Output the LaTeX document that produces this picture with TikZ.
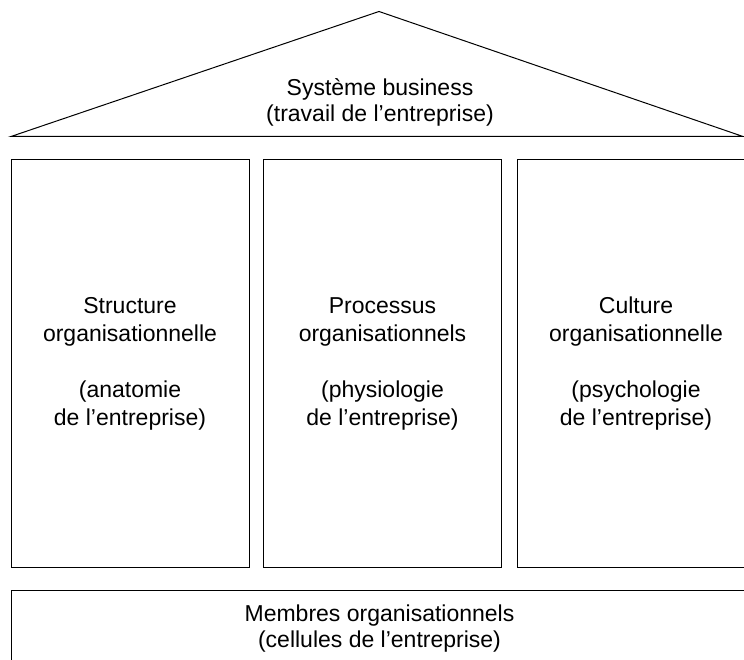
\documentclass[tikz,border=0pt]{standalone}
\usepackage{fontspec}
\setmainfont{Liberation Sans}
\begin{document}
\begin{tikzpicture}[x=1pt,y=1pt,
  pillar/.style={draw=black,line width=1pt,rectangle,inner sep=0pt,
    minimum width=238pt,minimum height=408pt,align=center,
    font=\fontsize{23}{28}\selectfont},
  label/.style={align=center,inner sep=0pt,font=\fontsize{23}{26}\selectfont}]
\useasboundingbox (0,0) rectangle (744,660);
\begin{scope}
\clip (0,0) rectangle (744,660);
% roof
\coordinate (rl) at (11,523.5);
\coordinate (ra) at (379,648.5);
\coordinate (rr) at (743,523.5);
\draw[line width=1pt,line join=miter] (rl) -- (ra) -- (rr) -- cycle;
\node[label] (roof) at (380,558) {Système business\\(travail de l’entreprise)};
% pillars
\node[pillar] (p1) at (130,296) {Structure\\organisationnelle\\[28pt](anatomie\\de l’entreprise)};
\node[pillar] (p2) at (382.5,296) {Processus\\organisationnels\\[28pt](physiologie\\de l’entreprise)};
\node[pillar] (p3) at (636,296) {Culture\\organisationnelle\\[28pt](psychologie\\de l’entreprise)};
% foundation
\node[draw=black,line width=1pt,rectangle,inner sep=0pt,minimum width=737pt,
  minimum height=80pt] (base) at (379.5,29) {};
\node[label] (basetext) at (379.5,31) {Membres organisationnels\\(cellules de l’entreprise)};
\end{scope}
\end{tikzpicture}
\end{document}
